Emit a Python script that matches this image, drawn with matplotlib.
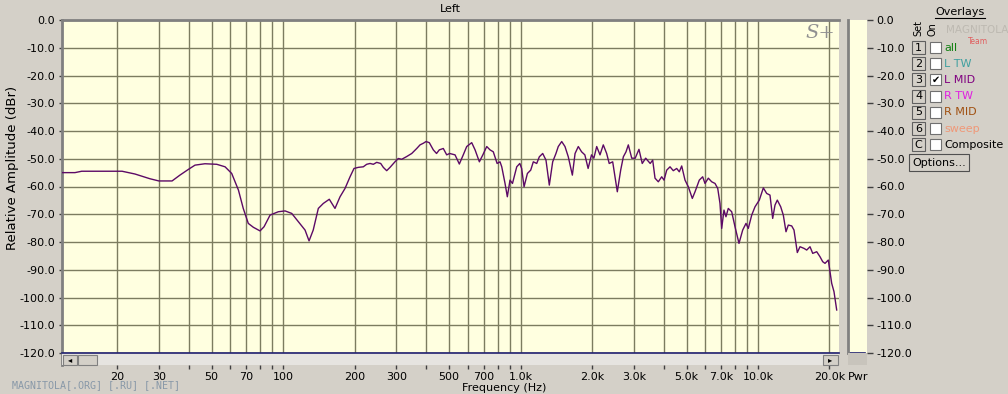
import numpy as np
import matplotlib
matplotlib.use("Agg")
import matplotlib.pyplot as plt
from matplotlib.patches import Rectangle
from matplotlib.ticker import FixedLocator, FixedFormatter, NullFormatter

# frequency response
freq_hz = [11.7, 13.3, 14.2, 17.0, 21.0, 23.8, 27.5, 30.0, 34.1, 36.8, 40.0, 42.6, 46.9,
           52.6, 57.0, 60.8, 64.9, 68.0, 71.4, 75.0, 80.0, 83.2, 88.2, 95.5, 102, 108.8,
           116, 123.8, 128.7, 134, 140.8, 147.8, 156.6, 165.5, 173.8, 182.4, 191.5, 199,
           207.5, 217.8, 225, 232.5, 240, 248, 257.8, 264.4, 273.2, 282.2, 296, 305.9,
           316, 331.8, 348.3, 365.6, 377.5, 390, 400, 413, 429.3, 443, 455, 473, 488.9,
           503, 530, 552.5, 574, 593.5, 623, 643.6, 671, 694, 720.7, 744, 768, 797,
           819.8, 833.6, 860.6, 880, 903, 925, 964, 993, 1011, 1035, 1069, 1104, 1132,
           1170, 1200, 1240, 1280, 1322, 1366, 1410, 1442, 1491, 1539, 1589, 1653, 1697,
           1751, 1808, 1866, 1926, 1990, 2036, 2093, 2161, 2231, 2305, 2363, 2444, 2500,
           2556, 2641, 2710, 2781, 2844, 2940, 3040, 3153, 3255, 3365, 3516, 3602, 3684,
           3804, 3931, 4020, 4127, 4261, 4398, 4546, 4662, 4772, 4928, 5088, 5289, 5430,
           5659, 5848, 5981, 6177, 6383, 6592, 6768, 6916, 7032, 7190, 7330, 7496, 7748,
           8001, 8316, 8620, 8900, 9102, 9408, 9715, 10128, 10530, 10877, 11232, 11530,
           11790, 12056, 12460, 12780, 13118, 13414, 13862, 14176, 14638, 15027, 15619,
           16034, 16556, 16996, 17668, 18240, 18726, 19150, 19770, 20100, 20430, 20890,
           21445]
level_db = [-55.0, -55.0, -54.5, -54.5, -54.5, -55.5, -57.2, -58.0, -58.0, -55.9, -53.8, -52.3, -51.8,
            -52.0, -52.9, -55.3, -61.3, -67.9, -73.3, -74.7, -76.0, -74.5, -70.3, -69.1, -68.8, -69.7,
            -72.7, -75.7, -79.6, -75.7, -67.9, -66.1, -64.6, -67.9, -63.7, -60.7, -56.5, -53.5,
            -53.1, -52.9, -52.0, -51.7, -52.0, -51.3, -51.7, -53.1, -54.3, -53.1, -51.1, -49.9,
            -50.2, -49.2, -48.1, -46.3, -45.0, -44.4, -43.8, -44.2, -46.8, -48.1, -46.8, -46.3, -48.6,
            -48.1, -48.6, -51.9, -48.6, -45.6, -44.2, -46.8, -51.1, -48.6, -45.6, -46.8, -47.5, -51.7,
            -51.1, -52.9, -58.9, -63.7, -57.7, -58.9, -52.9, -51.7, -53.5, -60.1, -55.3, -54.1, -51.1,
            -51.7, -49.3, -48.1, -50.5, -59.5, -51.1, -48.1, -45.6, -43.8, -45.6, -49.3, -55.9, -48.1,
            -45.6, -47.5, -48.6, -53.5, -48.6, -49.8, -45.6, -48.6, -45.0, -48.1, -51.7, -51.1, -56.5,
            -61.9, -54.1, -49.3, -47.5, -45.0, -49.8, -49.8, -46.6, -51.7, -49.8, -51.7, -50.5, -57.0,
            -58.3, -56.5, -57.7, -54.1, -52.9, -54.3, -53.5, -54.7, -52.6, -57.7, -60.1, -64.3, -61.9,
            -57.7, -56.5, -58.9, -57.0, -58.3, -58.9, -60.7, -66.1, -75.1, -68.5, -70.9, -67.9, -69.1,
            -74.5, -80.5, -75.7, -73.3, -75.1, -70.3, -67.3, -64.9, -60.5, -62.5, -63.1, -71.5,
            -66.7, -64.9, -67.3, -70.3, -76.3, -73.9, -74.2, -75.7, -83.8, -81.7, -82.3,
            -82.9, -81.7, -84.1, -83.5, -85.3, -87.1, -87.7, -86.5, -90.7, -94.9, -97.9,
            -104.5]

major_ticks = [20, 30, 50, 70, 100, 200, 300, 500, 700, 1000, 2000, 3000, 5000, 7000, 10000, 20000]
major_labels = ["20", "30", "50", "70", "100", "200", "300", "500", "700", "1.0k", "2.0k",
                "3.0k", "5.0k", "7.0k", "10.0k", "20.0k"]
minor_ticks = [40, 60, 80, 90, 400, 600, 800, 900, 4000, 6000, 8000, 9000]
db_ticks = list(range(0, -130, -10))
db_labels = ["%.1f" % v for v in db_ticks]

overlay_keys = ["1", "2", "3", "4", "5", "6", "C"]
overlay_names = ["all", "L TW", "L MID", "R TW", "R MID", "sweep", "Composite"]
overlay_colors = ["#108010", "#40a0a0", "#800080", "#e020e0", "#a05010", "#f09878", "black"]
overlay_checked = [False, False, True, False, False, False, False]

W, H = 1008, 394
BG = "#d4d0c8"
PLOT_BG = "#ffffe0"
GRID = "#7c7c60"


def px_rect(x0, y0, x1, y1):
    return [x0 / W, 1 - y1 / H, (x1 - x0) / W, (y1 - y0) / H]


plt.rcParams['font.family'] = ['DejaVu Sans']
fig = plt.figure(figsize=(W / 100, H / 100), dpi=100, facecolor=BG)

# main plot, bottom part (353..365) hidden under the scroll bar
ax = fig.add_axes(px_rect(62, 20, 839, 365))
ax.set_facecolor(PLOT_BG)
ax.set_xscale('log')
ax.set_xlim(11.73, 21930)
ax.set_ylim(-120 - 12 / 27.75 * 10, 0)
ax.plot(freq_hz, level_db, color="#5c0a66", lw=1.0, zorder=3)

ax.xaxis.set_major_locator(FixedLocator(major_ticks))
ax.xaxis.set_major_formatter(FixedFormatter(major_labels))
ax.xaxis.set_minor_locator(FixedLocator(minor_ticks))
ax.xaxis.set_minor_formatter(NullFormatter())
ax.set_yticks(db_ticks)
ax.set_yticklabels(db_labels)
ax.grid(True, which='both', axis='x', color=GRID, lw=1.0, zorder=1)
ax.grid(True, which='major', axis='y', color=GRID, lw=1.0, zorder=1)
ax.tick_params(axis='x', which='both', direction='out', length=3, width=1, color="#404040",
               pad=2, labelsize=8)
ax.tick_params(axis='y', direction='out', length=2, width=1, color="#404040", pad=3, labelsize=8)
for side in ['right', 'bottom']:
    ax.spines[side].set_visible(False)
for side in ['left', 'top']:
    ax.spines[side].set_color("#808080")
    ax.spines[side].set_linewidth(2)

# power bar on the right
pw = fig.add_axes(px_rect(848, 20, 867, 353))
pw.set_facecolor(PLOT_BG)
pw.set_ylim(-120, 0)
pw.set_xlim(0, 1)
pw.set_xticks([])
pw.set_yticks(db_ticks)
pw.set_yticklabels(db_labels)
pw.yaxis.tick_right()
pw.tick_params(axis='y', direction='out', length=4, width=1, color="#404040", pad=3, labelsize=8)
pw.plot([0.1, 0.9], [-120, -120], color="#202070", lw=1.2)
for side in ['right', 'bottom', 'top']:
    pw.spines[side].set_visible(False)
pw.spines['left'].set_color("#808080")
pw.spines['left'].set_linewidth(2)

# window decorations drawn in pixel space
ui = fig.add_axes([0, 0, 1, 1])
ui.set_xlim(0, W)
ui.set_ylim(H, 0)
ui.axis('off')
ui.patch.set_alpha(0)
ui.set_zorder(5)

# scroll bar
ui.add_patch(Rectangle((62, 353), 777, 12, facecolor="#e6e4e0", edgecolor="none"))
ui.plot([62, 839], [353, 353], color="#202070", lw=1.2)
for x0, w in [(63, 14), (78, 19), (823, 15)]:
    ui.add_patch(Rectangle((x0, 354.5), w, 10, facecolor=BG, edgecolor="#808080", lw=0.8))
ui.text(70, 359.5, "\u25c2", fontsize=6, ha='center', va='center')
ui.text(830.5, 359.5, "\u25b8", fontsize=6, ha='center', va='center')
ui.add_patch(Rectangle((848, 353), 19, 12, facecolor="#c8c4bc", edgecolor="none"))

# texts around the plot
ui.text(450, 9, "Left", fontsize=8, ha='center', va='center')
ui.text(504, 388, "Frequency (Hz)", fontsize=8, ha='center', va='center')
ui.text(13, 168, "Relative Amplitude (dBr)", fontsize=9.5, rotation=90, ha='center', va='center')
ui.text(858, 377, "Pwr", fontsize=8, ha='center', va='center')
ui.text(820, 33, "S+", fontsize=14, family='DejaVu Serif', style='italic', color="#909090",
        ha='center', va='center')
ui.text(12, 385, "MAGNITOLA[.ORG] [.RU] [.NET]", fontsize=7.2, family='DejaVu Sans Mono',
        color="#8898a8", ha='left', va='center')

# overlays panel
ui.text(960, 12, "Overlays", fontsize=8, ha='center', va='center')
ui.plot([935, 985], [18, 18], color="black", lw=0.8)
ui.text(977, 30, "MAGNITOLA", fontsize=7.5, color="#bdb9b1", ha='center', va='center', zorder=0)
ui.text(978, 41, "Team", fontsize=5.5, color="#e06060", ha='center', va='center', zorder=0)
ui.text(918, 28, "Set", fontsize=7, rotation=90, ha='center', va='center')
ui.text(933, 29, "On", fontsize=7, rotation=90, ha='center', va='center')
for i, (key, name, col, chk) in enumerate(zip(overlay_keys, overlay_names, overlay_colors,
                                               overlay_checked)):
    yc = 47.5 + i * 16.2
    ui.add_patch(Rectangle((912, yc - 6.5), 13, 13, facecolor=BG, edgecolor="#606060", lw=0.8))
    ui.text(918.5, yc, key, fontsize=8, ha='center', va='center')
    ui.add_patch(Rectangle((930, yc - 5.5), 11, 11, facecolor="white", edgecolor="#707070", lw=0.8))
    if chk:
        ui.text(935.5, yc, "\u2714", fontsize=7, ha='center', va='center')
    ui.text(944, yc, name, fontsize=8, color=col, ha='left', va='center')
ui.add_patch(Rectangle((909, 154), 60, 17, facecolor=BG, edgecolor="#505050", lw=0.8))
ui.text(939, 162.5, "Options...", fontsize=8, ha='center', va='center')

fig.savefig("out.png", dpi=100, facecolor=BG)
